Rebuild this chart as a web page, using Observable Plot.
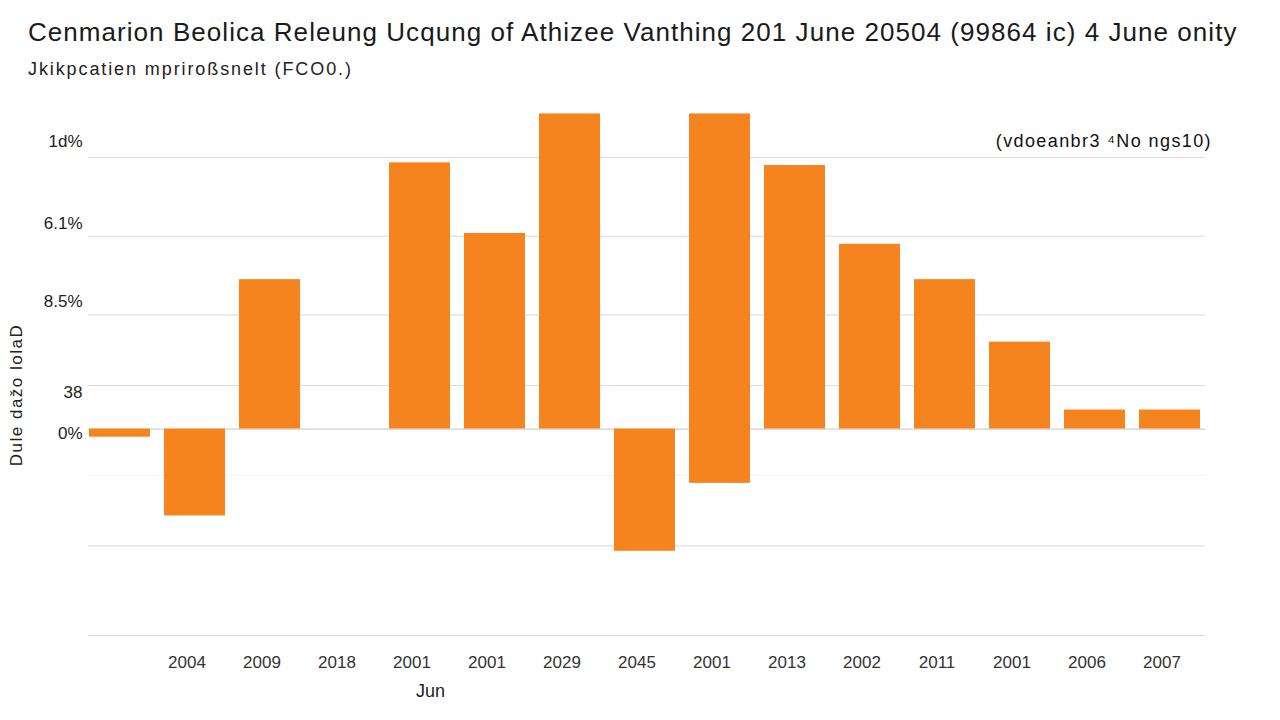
<!DOCTYPE html>
<html>
<head>
<meta charset="utf-8">
<script src="https://cdn.jsdelivr.net/npm/d3@7"></script>
<script src="https://cdn.jsdelivr.net/npm/@observablehq/plot@0.6"></script>
<style>
  html, body { margin: 0; padding: 0; background: #ffffff; }
  body { width: 1280px; height: 720px; position: relative; overflow: hidden; font-family: "Liberation Sans", Arial, sans-serif; }
  #chart { position: absolute; left: 0; top: 90px; }
  .ov { position: absolute; white-space: nowrap; z-index: 2; }
  #title { left: 28px; top: 17px; font-size: 26px; color: #1a1a1a; letter-spacing: 1.05px; }
  #subtitle { left: 28px; top: 59px; font-size: 18px; color: #222; letter-spacing: 1.9px; }
  #ylabel { left: 17px; top: 395px; transform: translate(-50%, -50%) rotate(-90deg); font-size: 17px; color: #222; letter-spacing: 1.5px; }
  #note { right: 68px; top: 131px; font-size: 18px; color: #111; letter-spacing: 1.4px; }
  #xlabel { left: 416px; top: 681px; font-size: 18px; color: #222; }
</style>
</head>
<body>
<div id="chart"></div>
<div id="title" class="ov">Cenmarion Beolica Releung Ucqung of Athizee Vanthing 201 June 20504 (99864 ic) 4 June onity</div>
<div id="subtitle" class="ov">Jkikpcatien mpriroßsnelt (FCO0.)</div>
<div id="ylabel" class="ov">Dule dažo lolaD</div>
<div id="note" class="ov">(vdoeanbr3 ⁴No ngs10)</div>
<div id="xlabel" class="ov">Jun</div>
<script>
// Categories (slot index) and their tick labels
const slots = [0,1,2,3,4,5,6,7,8,9,10,11,12,13,14];
const tickLabels = ["", "2004", "2009", "2018", "2001", "2001", "2029", "2045", "2001", "2013", "2002", "2011", "2001", "2006", "2007"];
// Bar top and base values (percent); null = no bar
const barHigh = [0, 0, 5.5, null, 9.8, 7.2, 11.6, 0, 11.6, 9.7, 6.8, 5.5, 3.2, 0.7, 0.7];
const barLow  = [-0.3, -3.2, 0, null, 0, 0, 0, -4.5, -2.0, 0, 0, 0, 0, 0, 0];
// Gridline values
const gridValues = [10, 7.1, 4.2, 1.6, -4.3, -7.6];
const faintGrid = [-1.7];
// Y tick labels and where they sit
const yLabelValues = [10.6, 7.55, 4.7, 1.33, -0.18];
const yLabels = ["1d%", "6.1%", "8.5%", "38", "0%"];

const bars = slots.map((s, i) => ({slot: s, hi: barHigh[i], lo: barLow[i]})).filter(d => d.hi !== null);

const chart = Plot.plot({
  width: 1280,
  height: 630,
  marginLeft: 88,
  marginRight: 75,
  marginTop: 18,
  marginBottom: 85,
  style: { fontFamily: "Liberation Sans, Arial, sans-serif", fontSize: "15px", color: "#222", background: "white" },
  x: { type: "band", domain: slots, paddingInner: 0.19, paddingOuter: 0, range: [87, 1201], axis: null },
  y: { domain: [-7.6, 11.8], axis: null },
  marks: [
    Plot.ruleY(gridValues, { stroke: "#d9d9d9", strokeWidth: 1 }),
    Plot.ruleY(faintGrid, { stroke: "#f1f1f1", strokeWidth: 1 }),
    Plot.ruleY([0], { stroke: "#d0d0d0", strokeWidth: 1.2 }),
    Plot.barY(bars, { x: "slot", y1: "lo", y2: "hi", fill: "#F5841F" }),
    Plot.axisY(yLabelValues, { tickFormat: (d, i) => yLabels[i], tickSize: 0, tickPadding: 6, fontSize: 17, label: null, color: "#222" }),
    Plot.axisX({ tickFormat: d => tickLabels[d], tickSize: 0, tickPadding: 20, dx: -8, fontSize: 17, label: null, color: "#333" })
  ]
});
document.getElementById("chart").appendChild(chart);
</script>
</body>
</html>
